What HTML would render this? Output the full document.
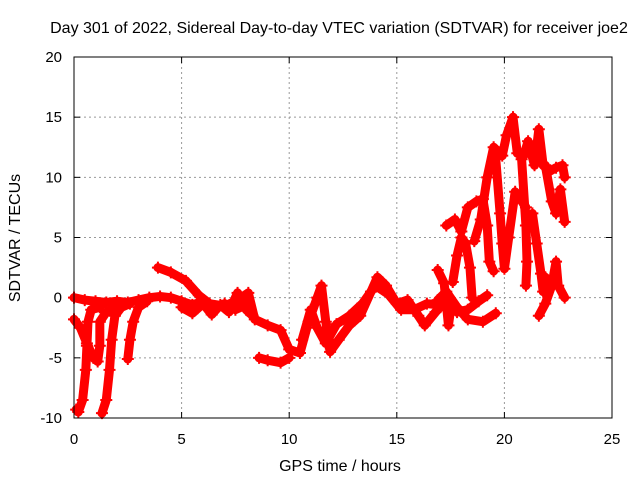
<!DOCTYPE html>
<html><head><meta charset="utf-8"><style>
body{margin:0;background:#fff}
svg{display:block;font-family:"Liberation Sans",sans-serif}
</style></head><body>
<svg id="chart" width="640" height="480">
<text x="339" y="33" font-size="16" text-anchor="middle">Day 301 of 2022, Sidereal Day-to-day VTEC variation (SDTVAR) for receiver joe2</text>
<text x="340" y="471" font-size="16" text-anchor="middle">GPS time / hours</text>
<text transform="translate(20,238) rotate(-90)" font-size="16" text-anchor="middle">SDTVAR / TECUs</text>
<g id="grid"></g><g id="marks"></g>
<rect x="74" y="57" width="538" height="361" fill="none" stroke="#000"/>
</svg>
<script>
const xTicks=[0,5,10,15,20,25];
const yTicks=[-10,-5,0,5,10,15,20];
const trackBase=[[0,0],[0.5,-0.2],[1,-0.3],[1.5,-0.4],[2,-0.3],[2.5,-0.4],[3,-0.2],[3.5,0],[4,0.1],[4.5,0],[5,-0.3],[5.5,-0.6],[6,-0.3],[6.5,-0.8],[7,-0.5],[7.5,-1],[8,-0.6]];
const trackBase2=[[5,-0.8],[5.5,-1.3],[6,-0.5],[6.4,-1.4],[6.8,-0.6],[7.2,-1.2],[7.6,0.4],[8,-1],[8.3,-1.5]];
const trackDrop1=[[0,-1.8],[0.3,-2.5],[0.6,-3.8],[0.9,-5],[1.1,-5.3],[1.2,-4],[1.2,-2],[1.5,-1.2],[2,-0.8]];
const trackDrop2=[[0.1,-9.3],[0.2,-9.5],[0.4,-8.5],[0.55,-6],[0.6,-4],[0.65,-2],[0.8,-1],[1.2,-0.8]];
const trackDrop3=[[1.3,-9.6],[1.5,-8.5],[1.65,-6],[1.75,-3.5],[1.9,-1.5],[2.2,-0.8],[2.6,-0.5]];
const trackDrop4=[[2.5,-5.1],[2.6,-3.5],[2.75,-2],[3,-0.8],[3.4,-0.3]];
const trackMid=[[3.9,2.5],[4.5,2.1],[5.2,1.4],[5.8,0.2],[6.3,-0.5],[7,-0.7],[7.6,-0.2],[8.1,0.4],[8.4,-1.8],[9,-2.3],[9.6,-2.7],[10,-4.3],[10.5,-4.6],[10.9,-2],[11.3,0],[11.5,1],[11.7,-2],[11.9,-4.5],[12.3,-3.5],[12.8,-2.3],[13.3,-1.5],[13.8,0.5],[14.1,1.7],[14.5,1],[15,-0.5],[15.5,-0.2],[16,-1.5],[16.3,-2.3],[16.8,-1.2],[17.3,-0.2],[17.8,-1.2],[18.3,-1],[18.8,-0.3],[19.2,0.2]];
const trackMid2=[[10.6,-3.5],[11,-1],[11.3,-2.5],[11.7,-3.8],[12.2,-2.2],[12.8,-1.5],[13.4,-0.5],[14,1],[14.6,0.3],[15.2,-1],[15.8,-1],[16.4,-0.5],[17,-0.6]];
const trackLow=[[8.6,-5],[9,-5.2],[9.6,-5.4],[10,-5]];
const trackSide=[[16.9,-0.2],[17.3,0.5],[17.8,-0.8],[18.3,-1.8],[19,-2],[19.6,-1.3]];
const trackRise1=[[16.9,2.3],[17.2,1.2],[17.3,-0.5],[17.4,-2.3],[17.5,-1]];
const trackRise2=[[17.3,6],[17.7,6.5],[18,5.5],[18.3,7.5],[18.7,8],[19,8.2],[19.2,6],[19.3,3],[19.5,2.2]];
const trackRise3=[[17.6,1.3],[17.8,3.5],[18,5],[18.2,4.5],[18.4,2.5],[18.5,0]];
const trackPeak=[[18.6,4.7],[18.9,6.5],[19.2,10],[19.5,12.5],[19.9,11.8],[20.1,13.5],[20.4,15],[20.6,12],[20.9,11.8],[21.1,13],[21.4,11],[21.6,14],[21.8,11],[22.1,10.5],[22.4,10.8],[22.7,11],[22.8,10]];
const trackFall1=[[19.6,11.5],[19.8,7],[19.9,4.5],[20,2.4],[20.2,5],[20.5,8.8],[20.7,8.3],[21,7.5]];
const trackFall2=[[20.8,11.5],[21,6],[21.05,3],[21,1]];
const trackFall3=[[21.3,7],[21.5,4.5],[21.7,2],[21.8,0.5],[21.9,1.7]];
const trackFall4=[[21.6,-1.5],[21.9,-0.5],[22.2,1],[22.4,3],[22.5,1],[22.8,0]];
const trackFall5=[[21.9,11],[22.2,8],[22.4,7],[22.6,9],[22.8,6.3]];
const tracks=[trackBase,trackBase2,trackDrop1,trackDrop2,trackDrop3,trackDrop4,trackMid,trackMid2,trackLow,trackSide,trackRise1,trackRise2,trackRise3,trackPeak,trackFall1,trackFall2,trackFall3,trackFall4,trackFall5];
const NS='http://www.w3.org/2000/svg';
const X=t=>74+t*(538/25), Y=v=>418-(v+10)*(361/30);
const grid=document.getElementById('grid'), marks=document.getElementById('marks');
function mk(tag,attrs,parent){const e=document.createElementNS(NS,tag);for(const k in attrs)e.setAttribute(k,attrs[k]);parent.appendChild(e);return e;}
xTicks.forEach(t=>{
  if(t>0&&t<25){const l=mk('line',{x1:X(t),x2:X(t),y1:57,y2:418,stroke:'#999','stroke-dasharray':'2,3'},grid);
  
  }
  mk('line',{x1:X(t),x2:X(t),y1:418,y2:412,stroke:'#000'},grid);
  mk('line',{x1:X(t),x2:X(t),y1:57,y2:63,stroke:'#000'},grid);
  const tx=mk('text',{x:X(t),y:444,'font-size':15,'text-anchor':'middle'},grid);tx.textContent=t;
  
  
});
yTicks.forEach(v=>{
  if(v>-10&&v<20){const l=mk('line',{x1:74,x2:612,y1:Y(v),y2:Y(v),stroke:'#999','stroke-dasharray':'2,3'},grid);
  
  }
  mk('line',{x1:74,x2:80,y1:Y(v),y2:Y(v),stroke:'#000'},grid);
  mk('line',{x1:606,x2:612,y1:Y(v),y2:Y(v),stroke:'#000'},grid);
  const tx=mk('text',{x:62,y:Y(v)+5,'font-size':15,'text-anchor':'end'},grid);tx.textContent=v;
  
  
});
tracks.forEach(tr=>{
  const p=mk('polyline',{points:tr.map(d=>X(d[0])+','+Y(d[1])).join(' '),fill:'none',stroke:'#f00','stroke-width':9,'stroke-linejoin':'round','stroke-linecap':'round'},marks);
  
  
  tr.forEach(d=>{
    const m=mk('path',{d:`M${X(d[0])-6},${Y(d[1])}h12M${X(d[0])},${Y(d[1])-6}v12`,stroke:'#f00','stroke-width':2},marks);
    
    
  });
});
</script>
</body></html>
